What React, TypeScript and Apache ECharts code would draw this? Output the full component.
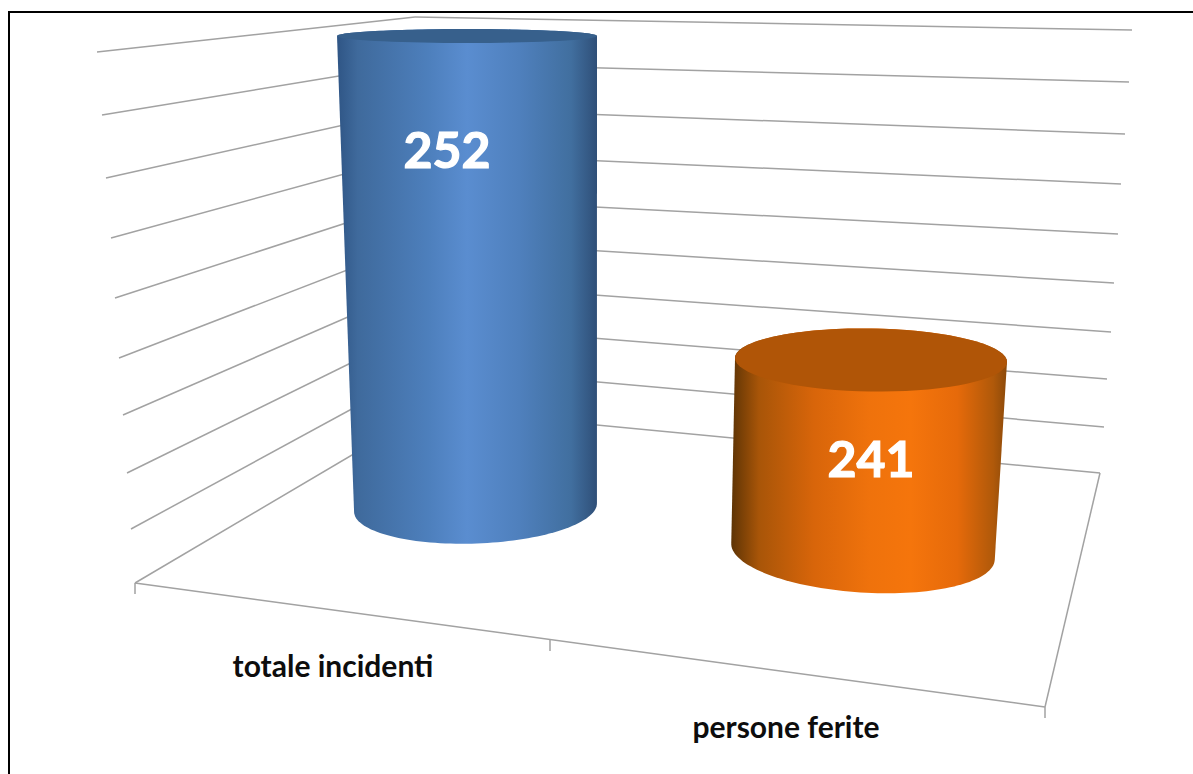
import React, { useEffect, useRef } from "react";
import * as echarts from "echarts";

const categories = ["totale incidenti", "persone ferite"];
const values = [252, 241];

const WIDTH = 1193;
const HEIGHT = 774;
const FONT = "Lato, 'Noto Sans', sans-serif";

// Perspective layout of the 3D walls (hidden scale decoration)
const wallLeft: [number, number][] = [[97, 52], [102, 115], [106, 178], [111, 238], [115, 298], [119, 358], [123, 415], [127, 473], [131, 529], [135, 583]];
const wallBack: [number, number][] = [[415, 17], [418, 63], [420, 108], [421, 153], [423, 198], [425, 240], [426, 283], [428, 325], [429, 367], [430, 409]];
const wallRight: [number, number][] = [[1132, 30], [1129, 82], [1125, 134], [1121, 184], [1118, 234], [1114, 283], [1111, 332], [1107, 379], [1104, 427], [1100, 473]];

// Per-category perspective of the cylinders
const cylinders = [
  {
    top: { dx: -1, rx: 130, ry: 7, rot: 0 },
    base: { cx: 475.5, cy: 507.5, rx: 121.5, ry: 36, rot: -0.037 },
    label: { dx: -21, dy: 113 },
    axisLabel: { x: 333, y: 665 },
    capColor: "#37608c",
    stops: [[0, "#2f5585"], [0.08, "#3f6a9c"], [0.35, "#4d7fbc"], [0.5, "#5a8dd0"], [0.7, "#4f80bd"], [0.9, "#416f9f"], [1, "#2f4f78"]],
  },
  {
    top: { dx: 3, rx: 136, ry: 31.5, rot: 0.015 },
    base: { cx: 863, cy: 551.5, rx: 132, ry: 41, rot: 0.064 },
    label: { dx: 3, dy: 98.5 },
    axisLabel: { x: 786, y: 726 },
    capColor: "#b05507",
    stops: [[0, "#5e3405"], [0.1, "#a85508"], [0.3, "#d8650a"], [0.5, "#ef720c"], [0.65, "#f5750c"], [0.82, "#e66a0a"], [0.95, "#b0590a"], [1, "#8c4a0a"]],
  },
];

function arc(cx: number, cy: number, rx: number, ry: number, rot: number, from: number, to: number) {
  const pts: number[][] = [];
  const n = 72;
  for (let i = 0; i <= n; i++) {
    const t = from + ((to - from) * i) / n;
    const x = rx * Math.cos(t);
    const y = ry * Math.sin(t);
    pts.push([cx + x * Math.cos(rot) - y * Math.sin(rot), cy + x * Math.sin(rot) + y * Math.cos(rot)]);
  }
  return pts;
}

const renderItem = (_: any, api: any) => {
  const idx = api.value(0);
  const val = api.value(1);
  const [x, y] = api.coord([idx, val]);
  const c = cylinders[idx];
  const cx = x + c.top.dx;
  const body = [
    ...arc(cx, y, c.top.rx, c.top.ry, c.top.rot, Math.PI, 2 * Math.PI),
    ...arc(c.base.cx, c.base.cy, c.base.rx, c.base.ry, c.base.rot, 0, Math.PI),
  ];
  const cap = arc(cx, y, c.top.rx, c.top.ry, c.top.rot, 0, 2 * Math.PI);
  return {
    type: "group",
    children: [
      {
        type: "polygon",
        shape: { points: body },
        style: {
          fill: {
            type: "linear", x: 0, y: 0, x2: 1, y2: 0,
            colorStops: c.stops.map(([offset, color]) => ({ offset, color })),
          },
        },
      },
      { type: "polygon", shape: { points: cap }, style: { fill: c.capColor } },
      {
        type: "text",
        x: x + c.label.dx,
        y: y + c.label.dy,
        style: {
          text: String(val), fill: "#ffffff", stroke: "#ffffff", lineWidth: 1.2,
          font: `bold 50px ${FONT}`, align: "center", verticalAlign: "middle",
        },
      },
      {
        type: "text",
        x: c.axisLabel.x,
        y: c.axisLabel.y,
        style: {
          text: categories[idx], fill: "#0d0d0d", font: `bold 30px ${FONT}`,
          align: "center", verticalAlign: "middle",
        },
      },
    ],
  };
};

const line = (a: number[], b: number[]) => ({
  type: "line", z: 1,
  shape: { x1: a[0], y1: a[1], x2: b[0], y2: b[1] },
  style: { stroke: "#a2a2a2", lineWidth: 1.5 },
});
const frame = (a: number[], b: number[]) => ({
  type: "line", z: 1,
  shape: { x1: a[0], y1: a[1], x2: b[0], y2: b[1] },
  style: { stroke: "#000000", lineWidth: 2 },
});

export default function App() {
  const ref = useRef<HTMLDivElement>(null);
  useEffect(() => {
    const chart = echarts.init(ref.current!, null, { renderer: "svg" });
    const wallEls = wallLeft.flatMap((p, i) => [line(p, wallBack[i]), line(wallBack[i], wallRight[i])]);
    chart.setOption({
      animation: false,
      backgroundColor: "#ffffff",
      grid: { left: 268, width: 800, top: 6.55, height: 382.9 },
      xAxis: { type: "category", data: categories, show: false },
      yAxis: { type: "value", min: 240, max: 253, show: false, splitLine: { show: false } },
      graphic: [
        frame([9, 12], [WIDTH, 12]),
        frame([9, 11], [9, HEIGHT]),
        ...wallEls,
        line([135, 583], [1045, 707]),
        line([1100, 473], [1045, 707]),
        line([135, 583], [135, 594]),
        line([550, 640], [550, 651]),
        line([1045, 707], [1045, 718]),
      ],
      series: [
        {
          type: "custom",
          z: 5,
          clip: false,
          renderItem,
          encode: { x: 0, y: 1 },
          data: values.map((v, i) => [i, v]),
        },
      ],
    });
    return () => chart.dispose();
  }, []);
  return <div ref={ref} style={{ position: "fixed", left: 0, top: 0, width: WIDTH, height: HEIGHT }} />;
}
